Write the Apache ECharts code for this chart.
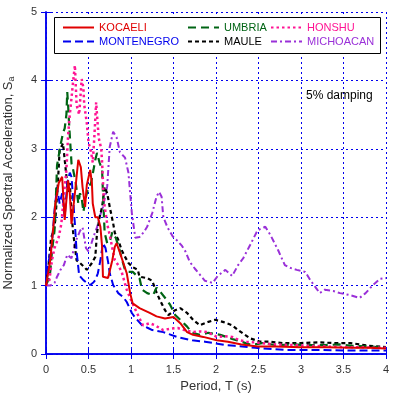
<!DOCTYPE html>
<html>
<head>
<meta charset="utf-8">
<script src="https://cdn.jsdelivr.net/npm/echarts@6/dist/echarts.min.js"></script>
<style>
  html, body { margin: 0; padding: 0; background: #fff; }
  #chart { width: 395px; height: 405px; }
</style>
</head>
<body>
<div id="chart"></div>
<script>
// 周期 T (s) 与 归一化谱加速度 Sa
const kocaeli = [[0,1.0],[0.01,1.08],[0.05,1.37],[0.09,1.91],[0.11,2.2],[0.15,2.5],[0.19,2.59],[0.22,1.96],[0.26,2.54],[0.28,2.35],[0.3,1.9],[0.34,2.35],[0.38,2.84],[0.41,2.73],[0.43,2.44],[0.46,2.15],[0.48,2.47],[0.52,2.69],[0.54,2.5],[0.55,2.2],[0.58,2.0],[0.61,2.0],[0.64,1.86],[0.66,1.57],[0.67,1.13],[0.73,1.11],[0.78,1.37],[0.81,1.57],[0.83,1.62],[0.87,1.48],[0.91,1.33],[0.95,1.18],[0.99,0.89],[1.02,0.74],[1.1,0.67],[1.22,0.6],[1.3,0.55],[1.4,0.52],[1.5,0.54],[1.58,0.45],[1.66,0.32],[1.73,0.28],[1.85,0.25],[2.01,0.2],[2.14,0.18],[2.3,0.14],[2.49,0.11],[2.7,0.11],[3.0,0.1],[3.3,0.1],[3.6,0.09],[3.8,0.09],[4.0,0.08]];
const montenegro = [[0,1.0],[0.02,1.27],[0.07,1.62],[0.1,2.1],[0.13,2.44],[0.16,2.2],[0.19,2.35],[0.22,2.0],[0.25,2.5],[0.28,2.65],[0.3,2.59],[0.32,2.25],[0.34,1.9],[0.36,1.5],[0.39,1.15],[0.44,1.08],[0.47,1.05],[0.52,1.01],[0.56,1.05],[0.58,1.08],[0.61,1.18],[0.64,1.37],[0.67,1.62],[0.7,1.55],[0.73,1.35],[0.75,1.18],[0.79,1.01],[0.85,0.89],[0.91,0.83],[0.95,0.76],[1.01,0.6],[1.05,0.53],[1.13,0.42],[1.2,0.38],[1.25,0.35],[1.38,0.32],[1.54,0.25],[1.72,0.2],[1.87,0.18],[2.11,0.13],[2.22,0.12],[2.46,0.09],[2.81,0.06],[3.2,0.06],[3.6,0.05],[4.0,0.05]];
const umbria = [[0,1.0],[0.03,1.1],[0.05,1.2],[0.07,1.5],[0.1,1.8],[0.12,2.4],[0.13,2.76],[0.15,2.9],[0.17,3.05],[0.2,3.23],[0.22,3.3],[0.24,3.5],[0.25,3.83],[0.26,3.64],[0.27,3.4],[0.3,2.79],[0.32,2.69],[0.35,2.5],[0.38,2.2],[0.4,2.35],[0.42,2.28],[0.44,2.08],[0.47,2.3],[0.5,2.44],[0.53,2.5],[0.56,2.7],[0.58,2.84],[0.6,2.94],[0.63,2.8],[0.66,2.69],[0.67,2.35],[0.69,1.77],[0.72,1.62],[0.75,1.64],[0.78,1.78],[0.82,1.7],[0.86,1.55],[0.89,1.4],[0.93,1.23],[0.97,1.2],[1.02,1.2],[1.1,1.11],[1.13,0.94],[1.19,0.89],[1.26,0.86],[1.3,0.97],[1.35,0.9],[1.42,0.79],[1.46,0.72],[1.52,0.57],[1.58,0.5],[1.66,0.4],[1.72,0.31],[1.81,0.28],[1.91,0.31],[2.05,0.28],[2.12,0.25],[2.19,0.22],[2.25,0.2],[2.42,0.13],[2.54,0.16],[2.65,0.14],[2.73,0.13],[2.9,0.14],[3.1,0.13],[3.28,0.13],[3.45,0.14],[3.6,0.12],[3.8,0.11],[4.0,0.09]];
const maule = [[0,1.0],[0.03,1.3],[0.06,1.7],[0.09,1.8],[0.11,1.96],[0.14,2.5],[0.16,2.98],[0.2,3.08],[0.22,2.84],[0.24,2.6],[0.26,2.35],[0.28,2.5],[0.3,2.06],[0.32,1.77],[0.36,1.37],[0.4,1.33],[0.46,1.26],[0.48,1.23],[0.54,1.33],[0.58,1.42],[0.6,1.77],[0.63,2.0],[0.66,2.15],[0.69,2.44],[0.72,2.35],[0.75,2.15],[0.79,1.91],[0.81,1.77],[0.85,1.67],[0.89,1.52],[0.93,1.42],[0.97,1.33],[1.02,1.27],[1.08,1.23],[1.1,1.13],[1.19,1.11],[1.25,1.07],[1.3,0.9],[1.34,0.79],[1.4,0.64],[1.44,0.57],[1.52,0.64],[1.58,0.67],[1.66,0.6],[1.73,0.5],[1.81,0.42],[1.91,0.47],[1.99,0.5],[2.08,0.47],[2.19,0.42],[2.26,0.35],[2.34,0.28],[2.4,0.23],[2.52,0.18],[2.64,0.18],[2.79,0.16],[3.0,0.16],[3.2,0.17],[3.4,0.16],[3.58,0.16],[3.8,0.12],[4.0,0.1]];
const honshu = [[0,1.0],[0.04,1.08],[0.07,1.37],[0.1,1.55],[0.15,1.71],[0.18,1.9],[0.22,2.44],[0.24,2.69],[0.26,3.2],[0.28,3.5],[0.3,3.74],[0.32,4.0],[0.34,4.22],[0.36,3.64],[0.39,3.5],[0.42,4.02],[0.44,3.89],[0.45,3.64],[0.48,3.38],[0.5,3.1],[0.53,2.95],[0.55,2.8],[0.57,3.2],[0.59,3.68],[0.6,3.5],[0.62,3.16],[0.65,3.0],[0.66,2.8],[0.68,2.25],[0.72,1.9],[0.75,1.74],[0.78,1.55],[0.81,1.37],[0.85,1.3],[0.89,1.2],[0.95,0.94],[1.01,0.76],[1.07,0.6],[1.14,0.42],[1.22,0.45],[1.28,0.42],[1.38,0.35],[1.46,0.37],[1.55,0.38],[1.65,0.34],[1.73,0.32],[1.82,0.33],[1.9,0.32],[2.01,0.25],[2.1,0.26],[2.19,0.25],[2.28,0.2],[2.36,0.18],[2.54,0.16],[2.7,0.14],[2.9,0.13],[3.1,0.12],[3.3,0.11],[3.5,0.1],[3.7,0.1],[3.9,0.09],[4.0,0.09]];
const michoacan = [[0,1.0],[0.05,1.0],[0.1,1.04],[0.13,1.13],[0.17,1.23],[0.21,1.3],[0.25,1.45],[0.3,1.4],[0.35,1.65],[0.4,1.8],[0.43,1.85],[0.47,1.55],[0.5,1.5],[0.53,1.6],[0.56,1.72],[0.6,1.85],[0.63,2.0],[0.67,2.15],[0.72,2.45],[0.75,3.03],[0.79,3.25],[0.83,3.17],[0.87,2.95],[0.93,2.87],[0.97,2.65],[0.99,2.35],[1.01,2.06],[1.05,1.7],[1.1,1.71],[1.15,1.78],[1.19,1.86],[1.25,2.06],[1.3,2.3],[1.33,2.37],[1.36,2.3],[1.38,2.0],[1.43,1.85],[1.49,1.72],[1.55,1.65],[1.6,1.58],[1.64,1.5],[1.69,1.35],[1.75,1.25],[1.81,1.16],[1.87,1.07],[1.96,1.04],[2.02,1.14],[2.11,1.23],[2.19,1.14],[2.26,1.3],[2.32,1.4],[2.4,1.59],[2.49,1.81],[2.58,1.86],[2.64,1.74],[2.73,1.52],[2.81,1.3],[2.87,1.26],[2.95,1.23],[3.05,1.2],[3.11,1.08],[3.18,0.96],[3.22,0.89],[3.28,0.94],[3.38,0.92],[3.46,0.89],[3.58,0.86],[3.69,0.82],[3.76,0.89],[3.84,1.0],[3.93,1.1],[4.0,1.11]];

const names = ['KOCAELI', 'MONTENEGRO', 'UMBRIA', 'MAULE', 'HONSHU', 'MICHOACAN'];
const colors = ['#e00000', '#0000ee', '#006414', '#000000', '#ff1493', '#9a30d8'];

const blue = '#0000ee';
const font = '"Liberation Sans", Arial, sans-serif';

let chart = echarts.init(document.getElementById('chart'));

function mkSeries(name, data, color, type, width) {
  return {
    name: name,
    type: 'line',
    data: data,
    symbol: 'none',
    smooth: false,
    color: color,
    lineStyle: { color: color, width: width, type: type },
    z: 3
  };
}

function mkLegend(left, items) {
  return {
    left: left,
    top: 22,
    z: 20,
    padding: 0,
    orient: 'vertical',
    itemWidth: 31,
    itemHeight: 12,
    itemGap: 3,
    itemStyle: { opacity: 0 },
    textStyle: { fontFamily: font, fontSize: 11 },
    data: items.map(i => ({ name: names[i], textStyle: { color: colors[i] } }))
  };
}

let gridLine = { show: true, lineStyle: { color: blue, type: [2, 3], width: 1 } };

let option = {
  backgroundColor: '#fff',
  animation: false,
  grid: { left: 46, right: 9, top: 12, bottom: 51, outerBoundsMode: 'none', containLabel: false },
  legend: [mkLegend(62, [0, 1]), mkLegend(187, [2, 3]), mkLegend(270, [4, 5])],
  xAxis: [{
    type: 'value', min: 0, max: 4, interval: 0.5,
    name: 'Period, T (s)', nameLocation: 'middle', nameGap: 25,
    nameTextStyle: { fontFamily: font, fontSize: 13, color: '#333' },
    axisLine: { show: true, lineStyle: { color: blue, width: 1.5 } },
    axisTick: { show: true, inside: true, length: 5, lineStyle: { color: blue } },
    axisLabel: { fontFamily: font, fontSize: 11, color: '#333', margin: 10 },
    splitLine: gridLine
  }, {
    type: 'value', min: 0, max: 4, interval: 0.5, position: 'top',
    axisLine: { show: true, lineStyle: { color: blue, width: 1.5 } },
    axisTick: { show: true, inside: true, length: 5, lineStyle: { color: blue } },
    axisLabel: { show: false }, splitLine: { show: false }
  }],
  yAxis: [{
    type: 'value', min: 0, max: 5, interval: 1,
    name: 'Normalized Spectral Acceleration, S{sub|a}', nameLocation: 'middle', nameGap: 30,
    nameTextStyle: {
      fontFamily: font, fontSize: 13, color: '#333',
      rich: { sub: { fontFamily: font, fontSize: 9, color: '#333', verticalAlign: 'bottom', padding: [6, 0, 0, 0] } }
    },
    axisLine: { show: true, lineStyle: { color: blue, width: 1.5 } },
    axisTick: { show: true, inside: true, length: 5, lineStyle: { color: blue } },
    axisLabel: { fontFamily: font, fontSize: 11, color: '#333', margin: 9 },
    splitLine: gridLine
  }, {
    type: 'value', min: 0, max: 5, interval: 1, position: 'right',
    axisLine: { show: true, lineStyle: { color: blue, width: 1.5 } },
    axisTick: { show: true, inside: true, length: 5, lineStyle: { color: blue } },
    axisLabel: { show: false }, splitLine: { show: false }
  }],
  graphic: [{
    type: 'rect', left: 54, top: 17, z: 10,
    shape: { width: 326, height: 36 },
    style: { fill: '#fff', stroke: '#000', lineWidth: 1 }
  }, {
    type: 'text', left: 306, top: 90, z: 10,
    style: { text: '5% damping', fontFamily: font, fontSize: 12, fill: '#000' }
  }],
  series: [
    mkSeries('MICHOACAN', michoacan, colors[5], [6, 3, 2, 3], 2),
    mkSeries('MAULE', maule, colors[3], [4, 3], 2.2),
    mkSeries('MONTENEGRO', montenegro, colors[1], [8, 4], 2),
    mkSeries('UMBRIA', umbria, colors[2], [8, 5], 2.2),
    mkSeries('HONSHU', honshu, colors[4], [2.5, 3], 2.5),
    mkSeries('KOCAELI', kocaeli, colors[0], 'solid', 2)
  ]
};

chart.setOption(option);
</script>
</body>
</html>
